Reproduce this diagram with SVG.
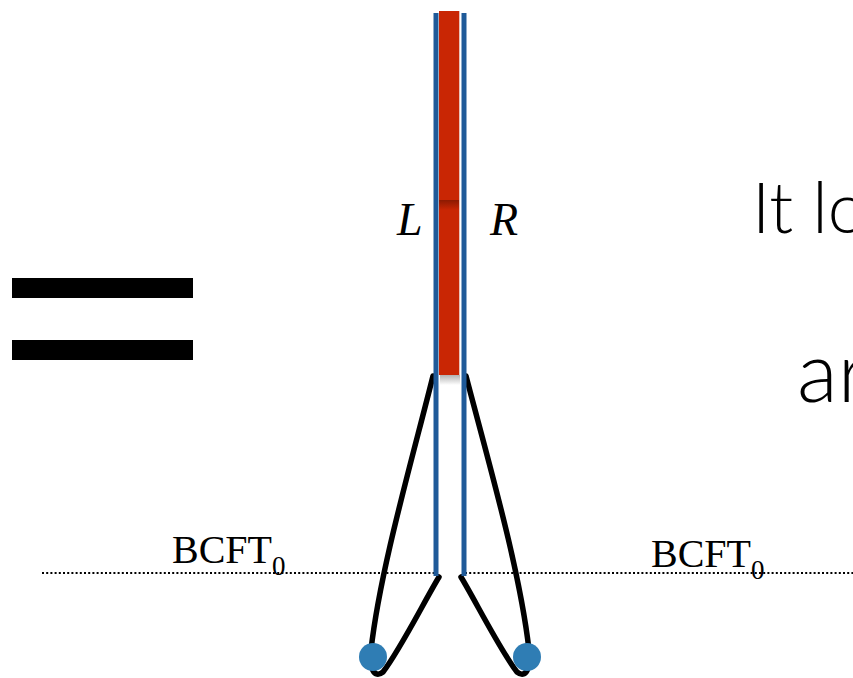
<svg xmlns="http://www.w3.org/2000/svg" width="853" height="678" viewBox="0 0 853 678">
<defs>
<style>
.blue{stroke:#1f5a99;stroke-width:5;fill:none}
.curve{stroke:#000;stroke-width:5.5;fill:none;stroke-linecap:round;stroke-linejoin:round}
.dot{stroke:#000;stroke-width:2.2;stroke-dasharray:2 2.2;fill:none}
.tm{font-family:"Liberation Serif","Times New Roman",serif;fill:#000}
.light{font-family:"Lato","Roboto","Liberation Sans",sans-serif;font-weight:300;fill:#000}
.ball{fill:#2f7db4}
</style>
<linearGradient id="shade" x1="0" y1="0" x2="0" y2="1">
<stop offset="0" stop-color="#5a1000" stop-opacity="0.55"/>
<stop offset="1" stop-color="#5a1000" stop-opacity="0"/>
</linearGradient>
<linearGradient id="shade2" x1="0" y1="0" x2="0" y2="1">
<stop offset="0" stop-color="#555" stop-opacity="0.45"/>
<stop offset="1" stop-color="#555" stop-opacity="0"/>
</linearGradient>
</defs>
<rect width="853" height="678" fill="#fff"/>

<g id="equals">
<rect x="12" y="278" width="181" height="20" fill="#000"/>
<rect x="12" y="340" width="181" height="20" fill="#000"/>
</g>

<g id="connectors">
<line class="dot" x1="42" y1="573" x2="435" y2="573"/>
<line class="dot" x1="465" y1="573" x2="853" y2="573"/>
<path class="curve" d="M433,376 C412,460 380,570 371,650 C369,668 374,679 383,672 C400,650 425,600 439,577"/>
<path class="curve" d="M466,376 C488,460 520,570 529,650 C531,668 526,679 517,672 C500,650 475,600 461,577"/>
</g>

<g id="strip">
<rect x="439" y="11" width="21" height="364" fill="#c92604"/>
<rect x="439" y="200" width="21" height="10" fill="url(#shade)"/>
<rect x="440" y="375" width="20" height="10" fill="url(#shade2)"/>
<line x1="459.5" y1="11" x2="459.5" y2="375" stroke="#e8c0b8" stroke-width="1"/>
<line class="blue" x1="436" y1="13" x2="436" y2="576"/>
<line class="blue" x1="464" y1="13" x2="464" y2="576"/>
</g>

<g id="balls">
<circle class="ball" cx="373" cy="657" r="14"/>
<circle class="ball" cx="527" cy="657" r="14"/>
</g>

<g id="labels">
<text class="tm" x="397" y="235" font-size="46" font-style="italic">L</text>
<text class="tm" x="490" y="235" font-size="46" font-style="italic">R</text>
<text class="tm" x="172" y="563" font-size="40">BCFT<tspan font-size="27" dy="12">0</tspan></text>
<text class="tm" x="651" y="567" font-size="40">BCFT<tspan font-size="27" dy="12">0</tspan></text>
<text class="light" x="752" y="233" font-size="70">It lo</text>
<text class="light" x="797" y="402" font-size="84">ar</text>
</g>
</svg>
